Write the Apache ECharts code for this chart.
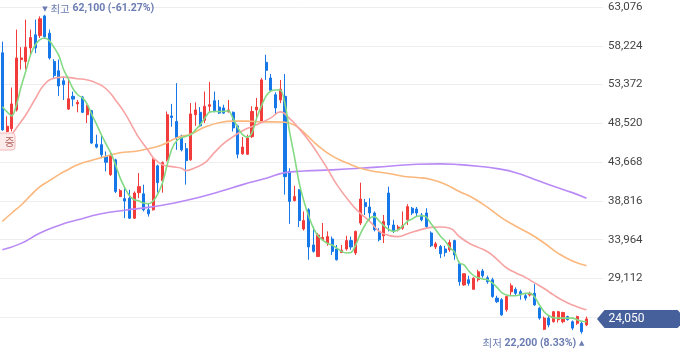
<!DOCTYPE html>
<html><head><meta charset="utf-8">
<script src="https://cdn.jsdelivr.net/npm/echarts@6/dist/echarts.min.js"></script>
<style>html,body{margin:0;padding:0;background:#fff}#c{width:680px;height:358px}</style>
</head><body><div id="c"></div>
<script>
// ---- data ----
const slotCount = 128; // 125 trading days + 3 empty slots on the right
const opens = [57350,47500,47850,50200,56500,56250,57950,59600,59500,61950,
59800,56250,55100,53850,50300,51900,50950,51800,49600,50100,
45900,45850,44350,42100,43950,39350,39100,39150,36650,39850,
39700,37700,37700,43200,41350,43950,49450,48750,46950,45350,
43950,49600,49900,48900,50650,51350,50550,50450,49950,49900,
48200,44700,44650,46850,50200,48700,56150,54200,52100,51450,
51900,42500,38850,40200,35300,37700,33300,31850,33950,33550,
34050,32800,32350,32800,33850,32300,36050,38600,38050,37300,
35000,34450,39800,35800,35200,35400,36450,37900,37800,37050,
37300,34800,33050,33100,32800,32700,33850,30950,28300,28950,
27750,28950,30050,29200,28950,26650,26450,25200,27450,27750,
27450,26950,27050,27250,25400,22750,24150,23700,23950,23700,
24350,23700,23500,23500,23300];
const closes = [47700,48150,50950,56700,56700,58050,59250,57950,61600,59350,
56700,54500,53200,53350,51600,51550,51150,49900,50650,46050,
45550,44600,43650,44500,40000,40100,38800,36650,39800,40600,
37700,37200,43950,41100,43600,49600,49250,46750,45200,43850,
49700,50200,48200,50650,50850,50100,49800,49800,50200,47950,
44650,45550,46700,50000,50550,53950,55150,52650,50450,52800,
41850,38750,39350,36350,36350,33050,32500,34550,34250,34350,
32500,31450,32650,33850,33050,35000,39050,38100,37300,35200,
33950,36250,35800,35000,35550,35700,38100,37300,37300,36450,
35600,33200,33450,32200,32350,33600,32050,28700,29700,28500,
29150,29950,29450,28700,26850,26200,24550,26850,28200,27250,
27050,26650,27250,25800,24150,24150,23300,24950,24950,24850,
23950,22900,24350,22450,24050];
const lows = [47600,47400,47500,50000,55250,55250,57100,57300,59200,59100,
56500,54200,51950,51450,50200,50650,49900,49800,48550,45950,
45400,44150,42500,41950,39800,39300,36650,36550,36550,39150,
37500,36850,37600,39850,39850,43750,48100,45200,45000,40850,
43850,48200,48050,48550,49900,49900,49700,49700,49900,47500,
44150,44600,44600,46700,48950,48650,53950,52500,49600,51050,
39600,35950,38750,35550,35100,31450,32350,31800,33850,33200,
32050,31350,32300,32600,32700,32050,35800,37050,36250,35000,
33750,33550,35000,34800,35000,35200,35800,37050,36850,36250,
35400,33050,32800,31650,31850,32450,31450,28200,28200,28200,
27700,28700,29200,28450,26700,26050,24450,24950,27050,27050,
26450,26350,26850,25700,23950,22650,23000,23600,23600,23500,
23850,22650,23300,22200,23150];
const highs = [58750,49400,53000,60250,58050,61500,60250,61500,61900,62100,
60250,56550,56500,54400,54200,52500,51450,51950,50850,50200,
47100,47100,45000,44800,44100,40300,40400,40200,40000,42300,
40850,38550,44150,43350,43750,50000,50950,53550,47100,46050,
51050,51150,50550,52500,53700,52500,51450,50850,51450,50000,
48350,46800,47100,50650,51700,54200,57100,54700,52400,53950,
54700,42900,40700,40300,37500,37900,35600,34800,36050,35000,
34350,33300,33300,34450,34350,35100,41100,39050,39150,37500,
35400,37050,40600,36450,35800,37500,38400,38050,38050,37300,
37900,35000,33700,33300,33200,33950,33950,31200,29750,29450,
29250,30200,30300,29450,29200,26950,26650,26950,28500,28000,
27700,27250,27450,28400,25500,24350,24450,25050,25050,24950,
24450,23850,24450,23700,24350];
const ma5 = [50600,49950,49450,50850,53150,55100,57100,58350,59000,59200,
58850,58000,57000,55250,54100,52850,52100,51700,50950,49600,
48400,47100,45950,44850,43350,41700,40450,39450,38950,38800,
38550,38450,38800,39700,41100,43350,45350,46350,46700,46900,
47100,47700,48350,49200,49950,50000,50000,50000,50100,49100,
47950,47100,46800,47350,49200,50700,51950,52550,52700,52700,
50950,47350,44350,41100,38800,36950,35450,34450,33900,33500,
33300,32900,32500,32300,32350,33300,34700,35800,36650,36850,
36300,35700,35250,35000,35200,35650,36250,36550,36900,36950,
36800,35950,35200,34400,33800,32950,32400,31050,30800,30050,
29500,29200,29050,28950,28550,28000,27350,27050,26950,26950,
27100,27250,27250,26800,25800,24950,24450,24200,24150,24150,
24150,24150,23950,23750,23700];
// moving averages read at selected days (1-based day number -> value)
const ma20Day = [1,2,4,6,8,10,12,14,17,19,21,23,25,27,29,30,32,33,35,37,39,40,42,44,46,48,50,52,55,58,60,62,64,66,68,70,72,75,77,79,81,83,85,87,90,92,94,96,98,100,102,104,106,108,110,112,114,116,118,120,122,124,125];
const ma20Val = [45200,46200,47950,49600,51600,53450,54150,54300,54100,53950,53550,52850,51450,49800,47700,46700,45100,44250,43350,43100,42900,42600,43000,43600,44850,46000,46850,47600,48350,49200,49950,49100,47850,46400,44700,42850,40850,38500,37250,36250,35000,34500,34350,34700,35250,35500,35550,35400,34350,33550,33000,32450,31500,30450,29800,29250,28550,27850,27050,26350,25800,25350,25200];
const ma60Day = [1,3,5,7,9,11,13,15,17,20,23,26,29,32,35,38,41,44,47,50,53,56,59,61,63,65,67,69,71,73,75,77,80,83,86,89,92,95,98,101,104,107,110,113,116,119,122,125];
const ma60Val = [36250,37300,38300,39500,40600,41350,42100,42750,43350,43900,44400,44850,45000,45350,45850,46700,47200,48050,48600,48800,48800,48700,48700,48650,48300,47400,46250,45250,44450,43850,43350,42900,42500,42250,41900,41750,41500,40900,40000,39150,38000,36700,35650,34700,33550,32250,31300,30700];
const ma120Day = [1,5,9,13,17,22,27,32,37,42,47,52,57,61,65,71,77,83,89,94,98,102,106,110,114,118,122,125];
const ma120Val = [32700,33500,34800,35750,36450,37200,37650,38000,38500,39150,39950,40850,41650,42350,42550,42700,42900,43150,43400,43450,43350,43150,42850,42350,41500,40650,39850,39150];
const yMin = 19408, yMax = 63076, yStep = 4852;
const hiddenTicks = [19408, 24260];
const highMark = {day: 10, value: 62100, label: '최고', text: '62,100 (-61.27%)'};
const lowMark = {day: 124, value: 22200, label: '최저', text: '22,200 (8.33%)'};
const lastPrice = 24050;

// ---- build ----
const cats = Array.from({length: slotCount}, (_, i) => String(i + 1));
function sparse(days, vals) {
  const a = new Array(slotCount).fill('-');
  days.forEach((d, j) => { a[d - 1] = vals[j]; });
  return a;
}
const fmt = v => String(v).replace(/\B(?=(\d{3})+(?!\d))/g, ',');
const candleData = opens.map((o, i) => [o, closes[i], lows[i], highs[i]]);
const RED = '#f23c3c', BLUE = '#1677e8';

const chart = echarts.init(document.getElementById('c'));
const lineBase = {type: 'line', symbol: 'none', showSymbol: false, connectNulls: true, silent: true, z: 3};
chart.setOption({
  animation: false,
  grid: {left: -1, right: 77, top: 7, bottom: 2, containLabel: false},
  xAxis: {type: 'category', data: cats, boundaryGap: true, show: false},
  yAxis: {
    type: 'value', position: 'right', min: yMin, max: yMax, interval: yStep,
    axisLine: {show: false}, axisTick: {show: false},
    splitLine: {show: true, showMinLine: false, lineStyle: {color: '#eeeeee', width: 1}},
    axisLabel: {margin: 5, color: '#444', fontSize: 11.5, fontFamily: 'Roboto',
      formatter: v => hiddenTicks.includes(v) ? '' : fmt(v)}
  },
  series: [
    {type: 'candlestick', data: candleData, barWidth: 2.6, z: 2,
     itemStyle: {color: RED, color0: BLUE, borderColor: RED, borderColor0: BLUE, borderWidth: 1}},
    Object.assign({}, lineBase, {name: 'MA120', data: sparse(ma120Day, ma120Val), smooth: true,
      lineStyle: {color: '#b98af6', width: 1.6}}),
    Object.assign({}, lineBase, {name: 'MA60', data: sparse(ma60Day, ma60Val), smooth: true,
      lineStyle: {color: '#fbb77c', width: 1.6}}),
    Object.assign({}, lineBase, {name: 'MA20', data: sparse(ma20Day, ma20Val), smooth: true,
      lineStyle: {color: '#f8a3a3', width: 1.6}}),
    Object.assign({}, lineBase, {name: 'MA5', data: ma5, smooth: 0.3,
      lineStyle: {color: '#84da84', width: 1.6}})
  ]
});

const hp = chart.convertToPixel({gridIndex: 0}, [highMark.day - 1, highMark.value]);
const lp = chart.convertToPixel({gridIndex: 0}, [lowMark.day - 1, lowMark.value]);
const cy = chart.convertToPixel({yAxisIndex: 0}, lastPrice);
const MARK = '#6b7cb2';
const richMark = {
  t: {fontSize: 7, fill: MARK, fontFamily: 'DejaVu Sans'},
  l: {fontSize: 10.5, fill: MARK, fontFamily: 'Noto Sans CJK KR'},
  v: {fontSize: 10.5, fill: MARK, fontWeight: 'bold', fontFamily: 'Roboto'},
  s: {fontSize: 10}
};
chart.setOption({
  graphic: [
    {type: 'text', z: 100, x: hp[0] - 2.5, y: hp[1] - 6,
     style: {text: '{t|▼}{s| }{l|' + highMark.label + '}{s| }{v|' + highMark.text + '}',
       rich: richMark, align: 'left', verticalAlign: 'middle'}},
    {type: 'text', z: 100, x: lp[0] + 2.5, y: lp[1] + 9.5,
     style: {text: '{l|' + lowMark.label + '}{s| }{v|' + lowMark.text + '}{s| }{t|▲}',
       rich: richMark, align: 'right', verticalAlign: 'middle'}},
    {type: 'polygon', z: 100,
     shape: {points: [[597, cy], [604.5, cy - 9], [677.5, cy - 9], [680, cy - 6.5], [680, cy + 6.5], [677.5, cy + 9], [604.5, cy + 9]]},
     style: {fill: '#46609c'}},
    {type: 'text', z: 101, x: 608.5, y: cy,
     style: {text: fmt(lastPrice), fill: '#ffffff', fontSize: 12, fontFamily: 'Roboto', align: 'left', verticalAlign: 'middle'}},
    {type: 'rect', z: 100, shape: {x: -6, y: 133, width: 21, height: 17, r: 3},
     style: {fill: '#fcebea', stroke: '#f2b9b7', lineWidth: 1}},
    {type: 'text', z: 101, x: 9.5, y: 141.8,
     style: {text: '증', fill: '#b5625f', fontSize: 10.5, fontFamily: 'Noto Sans CJK KR', align: 'center', verticalAlign: 'middle'}}
  ]
});
</script>
</body></html>
